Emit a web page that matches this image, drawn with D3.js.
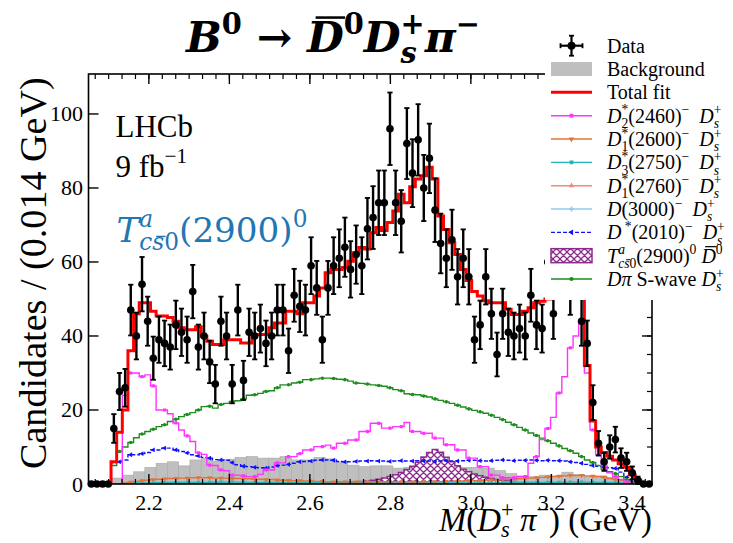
<!DOCTYPE html>
<html>
<head>
<meta charset="utf-8">
<script src="https://cdn.jsdelivr.net/npm/d3@7"></script>
<style>
  body { margin: 0; background: #fff; }
  svg { display: block; }
</style>
</head>
<body>
<svg id="chart" width="733" height="543"></svg>
<script>
// ---- binning of the M(Ds+ pi-) spectrum ----
const massLo = 2.05, massHi = 3.45;
const binWidth = 0.014;      // data, total fit and components
const bkgBinWidth = 0.028;   // background histogram
const yMax = 110.8;

// ---- data: candidates per bin ----
const dataCounts = [0,0,0,0,15,25,26,47,40,54,44,34,39,38,37,43,41,39,52,37,
  40,33,27,44,40,27,47,28,41,40,42,38,40,47,47,36,51,48,47,59,
  53,39,53,59,61,64,58,62,59,69,72,76,76,96,76,71,92,84,93,80,
  88,74,65,61,66,56,61,56,39,43,56,46,35,46,41,40,42,40,51,43,
  42,60,46,58,61,53,59,44,38,22,11,6,10,12,7,6,3,1,0,0];

// ---- total fit ----
const totalFit = [0,0,0,0,6,14,20,36,46,49,49,46.7,45.4,45.4,45,44,42.2,41.7,41.7,42.5,
  39.9,38.6,37.7,37.7,39,39,39,38.1,38.1,40.4,40.4,40.4,42.2,43.5,43.5,46.7,46.7,46,49,49,
  50.8,53,57.1,58,58,58.5,60.2,62.5,63.9,63.5,67.9,69.3,68.5,70.7,73.8,78.3,76,80.3,82.4,83.3,
  85.6,82.4,72.4,68.8,65.2,62,58,55,52,50.8,49.5,49,49,49,47.2,45.8,45.8,46.7,47.6,49,
  49.4,50,51,52,53,56,58,52,32,17,10,8.5,7.5,6.5,5.5,4.5,2.5,1,0,0];

// ---- background (coarser bins) ----
const bkgCounts = [0,0,1.6,2.4,3.3,4.5,5.6,6.0,4.9,6.5,7.0,6.2,6.7,7.2,7.4,7.0,7.0,7.4,6.5,6.5,
  7.2,6.8,6.0,5.1,4.7,4.9,4.9,4.3,4.5,4.3,4.5,4.2,4.4,4.5,4.5,4.3,3.6,2.8,2.2,2.0,
  2.4,2.2,3.2,2.6,2.0,2.2,1.8,1.2,0.6,0];

// ---- fit components ----
const d2_2460 = [0,0,0,0,0,0,24,30,30,29,29.5,26.5,20,20,19,16.5,14.6,13,11.5,8.4,
  8,5.1,5,3.8,3.6,2.4,2.4,2.2,2.0,2.0,2.6,3.8,3.8,5.7,5.7,7.4,7.4,8.2,9.2,9.2,
  10.1,10.1,10.5,9.7,11,11,11.9,11.9,14.2,14.2,16.4,16.4,15.1,15.1,15.5,15.5,16.6,14.2,14.2,13.7,
  13.7,12.4,12.4,10.6,10.6,9.2,9.2,7,7,4.7,4.7,2.4,2.4,1.7,1.7,1.7,2,2,5.6,7.4,
  12,15,18,24.6,29,36.8,40,44,30,14.6,7.9,5.1,3,2,1.2,0.6,0.2,0,0,0];

const d1_2600 = [0,0,0,0,0,0,0.3,0.5,0.7,0.9,1.0,1.2,1.3,1.4,1.5,1.5,1.6,1.6,1.7,1.7,
  1.7,1.7,1.6,1.6,1.6,1.5,1.5,1.4,1.4,1.3,1.3,1.2,1.2,1.1,1.0,1.0,0.9,0.9,0.8,0.8,
  0.7,0.7,0.6,0.6,0.6,0.6,0.6,0.6,0.6,0.6,0.6,0.6,0.6,0.6,0.6,0.6,0.6,0.6,0.6,0.65,
  0.65,0.65,0.65,0.7,0.7,0.8,0.8,0.9,0.9,1.0,1.0,1.1,1.1,1.2,1.3,1.3,1.4,1.5,1.6,1.7,
  1.8,1.9,2.0,2.1,2.2,2.3,2.3,2.3,2.2,2.1,2.0,1.8,1.5,1.2,0.9,0.5,0.2,0,0,0];

const d3_2750 = [0,0,0,0,0,0,0.2,0.3,0.3,0.3,0.3,0.3,0.35,0.35,0.4,0.4,0.4,0.45,0.45,0.45,
  0.45,0.45,0.5,0.5,0.5,0.5,0.5,0.5,0.45,0.45,0.45,0.45,0.45,0.4,0.4,0.4,0.4,0.4,0.4,0.4,
  0.4,0.4,0.4,0.4,0.4,0.4,0.4,0.35,0.35,0.35,0.35,0.35,0.35,0.35,0.35,0.3,0.3,0.3,0.3,0.3,
  0.3,0.3,0.3,0.3,0.3,0.3,0.3,0.3,0.3,0.3,0.3,0.3,0.3,0.35,0.35,0.35,0.35,0.4,0.4,0.4,
  0.4,0.45,0.45,0.45,0.5,0.5,0.5,0.5,0.5,0.45,0.45,0.45,0.4,0.35,0.3,0.25,0.15,0.05,0,0];

const d1_2760 = [0,0,0,0,0,0,0.2,0.25,0.3,0.3,0.35,0.35,0.4,0.4,0.4,0.4,0.4,0.4,0.4,0.4,
  0.35,0.35,0.35,0.35,0.3,0.3,0.3,0.3,0.3,0.3,0.3,0.3,0.3,0.3,0.3,0.3,0.3,0.3,0.3,0.3,
  0.3,0.3,0.3,0.3,0.3,0.3,0.3,0.3,0.3,0.3,0.3,0.3,0.3,0.3,0.3,0.3,0.3,0.3,0.3,0.3,
  0.3,0.3,0.3,0.3,0.3,0.3,0.3,0.3,0.3,0.3,0.3,0.3,0.3,0.3,0.3,0.3,0.3,0.3,0.3,0.3,
  0.3,0.3,0.3,0.3,0.3,0.3,0.3,0.3,0.3,0.3,0.3,0.25,0.25,0.2,0.2,0.15,0.1,0.05,0,0];

const d_3000 = [0,0,0,0,0,0,0.3,0.35,0.4,0.4,0.4,0.45,0.45,0.45,0.45,0.45,0.45,0.45,0.45,0.45,
  0.45,0.45,0.45,0.45,0.45,0.45,0.45,0.45,0.45,0.45,0.45,0.45,0.45,0.45,0.45,0.45,0.45,0.45,0.45,0.45,
  0.45,0.45,0.45,0.45,0.45,0.45,0.45,0.45,0.45,0.45,0.45,0.45,0.45,0.45,0.45,0.45,0.45,0.45,0.45,0.45,
  0.45,0.45,0.45,0.45,0.45,0.45,0.45,0.45,0.45,0.45,0.5,0.5,0.5,0.5,0.5,0.5,0.55,0.55,0.55,0.55,
  0.6,0.6,0.6,0.6,0.65,0.65,0.65,0.65,0.7,0.7,0.7,0.7,0.7,0.6,0.5,0.4,0.25,0.1,0,0];

const dstar_2010 = [0,0,0,0,5.7,6,6.5,7.9,7.9,8.2,8.5,9.2,9.2,9.7,9.7,9.2,8.8,8.4,7.9,7.6,
  7.2,7,6.6,6.5,6.4,5.8,5.2,4.8,4.7,4.5,4.4,4.3,4.6,5,5.1,5.3,5.6,6,6.1,6.2,
  6.4,6.5,6.5,6.4,6.1,6.0,6.0,6.1,6.2,6.2,6.3,6.2,6.2,6.1,6.2,6.3,6.2,6.2,6.3,6.2,
  6.2,6.1,6.2,6.3,6.2,6.2,6.3,6.4,6.4,6.3,6.2,6.3,6.4,6.5,6.4,6.3,6.4,6.4,6.5,6.4,
  6.3,6.4,6.3,6.3,6.2,6.0,5.8,5.6,5.3,5.0,4.8,4.6,4.4,4.2,3.2,1.8,0.8,0.2,0,0];

const tcs0_2900 = [0,0,0,0,0,0,0,0,0,0,0,0,0,0,0,0,0,0,0,0,
  0,0,0,0,0,0,0,0,0,0,0.1,0.15,0.15,0.15,0.2,0.2,0.2,0.2,0.25,0.25,
  0.25,0.3,0.3,0.35,0.4,0.45,0.5,0.6,0.7,0.8,1.0,1.3,1.6,2.0,2.5,3.1,3.9,4.8,5.9,7.3,
  8.5,9.3,8.6,7.2,6.0,4.9,4.0,3.3,2.7,2.2,1.8,1.5,1.2,1.0,0.8,0.65,0.55,0.45,0.4,0.35,
  0.3,0.3,0.25,0.25,0.25,0.2,0.2,0.2,0.2,0.2,0.15,0.15,0.15,0.15,0.15,0.15,0.1,0.05,0,0];

const dpiSwave = [0,0,0,0,5,8.8,10,11.2,12.5,13.5,14.2,14.8,15.5,16,16.9,17.5,18.2,18.8,19.3,20,
  20.9,21,20.5,21.5,21.8,22.3,22.5,23,24,24.1,24.5,25,25.2,26,26.8,26.8,27.3,27.5,28.2,28.2,
  28.4,28.6,28.6,28.5,28.3,28.2,27.8,27.3,27.2,27,26.8,26.6,26.4,26,25.5,25.2,24.4,24.2,24.1,23.8,
  23.5,23,22.6,22.2,21.8,21.3,20.8,20.3,19.9,19.5,19.1,18.6,18,17.4,16.7,16,15.3,14.6,13.8,13.1,
  12.4,11.7,11,10.3,9.6,9,8.3,7.4,6.5,5.8,5,4,3.3,2.8,2,1.2,0.5,0.1,0,0];

// ---- axis ticks ----
const xTickValues = [2.2, 2.4, 2.6, 2.8, 3.0, 3.2, 3.4];
const xTickLabels = ["2.2", "2.4", "2.6", "2.8", "3.0", "3.2", "3.4"];
const yTickValues = [0, 20, 40, 60, 80, 100];
const yTickLabels = ["0", "20", "40", "60", "80", "100"];

// ---- drawing ----
const svg = d3.select("#chart");
const W = 733, H = 543;
const serif = "'Liberation Serif', 'Times New Roman', serif";
svg.append("rect").attr("width", W).attr("height", H).attr("fill", "#fff");

const x = d3.scaleLinear().domain([massLo, massHi]).range([88.5, 652]);
const y = d3.scaleLinear().domain([0, yMax]).range([484, 74]);

const defs = svg.append("defs");
defs.append("clipPath").attr("id", "plotClip").append("rect")
  .attr("x", x(massLo)).attr("y", y(yMax))
  .attr("width", x(massHi) - x(massLo)).attr("height", y(0) - y(yMax));
const hatch = defs.append("pattern").attr("id", "xhatch")
  .attr("patternUnits", "userSpaceOnUse").attr("width", 7).attr("height", 7);
hatch.append("rect").attr("width", 7).attr("height", 7).attr("fill", "#fff");
hatch.append("path").attr("d", "M0,0L7,7M7,0L0,7M-1,6L1,8M6,-1L8,1")
  .attr("stroke", "#8e2c8e").attr("stroke-width", 1.3);

const plot = svg.append("g").attr("clip-path", "url(#plotClip)");

// step outline of a histogram through the scales
function stepLine(values, width) {
  const pts = [[massLo, 0]];
  values.forEach((v, i) => pts.push([massLo + i * width, v]));
  pts.push([massLo + values.length * width, values[values.length - 1]]);
  pts.push([massLo + values.length * width, 0]);
  return d3.line().x(d => x(d[0])).y(d => y(d[1])).curve(d3.curveStepAfter)(pts);
}

// background bars
plot.append("g").selectAll("rect").data(bkgCounts).join("rect")
  .attr("x", (d, i) => x(massLo + i * bkgBinWidth))
  .attr("width", x(massLo + bkgBinWidth) - x(massLo))
  .attr("y", d => y(d))
  .attr("height", d => y(0) - y(d))
  .attr("fill", "#bfbfbf").attr("stroke", "#a9a9a9").attr("stroke-width", 0.6);

// hatched T_cs0 component
plot.append("path").attr("d", stepLine(tcs0_2900, binWidth))
  .attr("fill", "url(#xhatch)").attr("stroke", "#8e2c8e").attr("stroke-width", 1.5);

const components = [
  { vals: d1_2760, color: "#f58a7c", sym: d3.symbolTriangle, rot: 0 },
  { vals: d_3000, color: "#8fcbf2", sym: d3.symbolCross, rot: 0 },
  { vals: d3_2750, color: "#22b5b5", sym: d3.symbolSquare, rot: 0 },
  { vals: d1_2600, color: "#e0743a", sym: d3.symbolTriangle, rot: 180 },
  { vals: dstar_2010, color: "#1010ff", sym: d3.symbolTriangle, rot: -90, dash: "4,2" },
  { vals: dpiSwave, color: "#1e8c1e", sym: d3.symbolCircle, rot: 0 },
  { vals: d2_2460, color: "#ff33ff", sym: d3.symbolSquare, rot: 0 }
];
components.forEach(c => {
  plot.append("path").attr("d", stepLine(c.vals, binWidth))
    .attr("fill", "none").attr("stroke", c.color).attr("stroke-width", 1.4)
    .attr("stroke-dasharray", c.dash || null);
  plot.append("g").selectAll("path").data(c.vals.map((v, i) => [i, v]).filter(d => d[0] % 2 === 1 && d[1] > 0.05))
    .join("path")
    .attr("d", d3.symbol().type(c.sym).size(10))
    .attr("transform", d => `translate(${x(massLo + (d[0] + 0.5) * binWidth)},${y(d[1])}) rotate(${c.rot})`)
    .attr("fill", c.color);
});

// total fit
plot.append("path").attr("d", stepLine(totalFit, binWidth))
  .attr("fill", "none").attr("stroke", "#ff0000").attr("stroke-width", 3);

// data with Poisson errors
const dataG = svg.append("g");
dataCounts.forEach((n, i) => {
  const cx = x(massLo + (i + 0.5) * binWidth);
  if (n > 0) {
    const e = Math.sqrt(n);
    const y1 = y(n + e), y2 = y(n - e);
    dataG.append("line").attr("x1", cx).attr("x2", cx).attr("y1", y1).attr("y2", y2)
      .attr("stroke", "#000").attr("stroke-width", 2.4);
    [y1, y2].forEach(yy => dataG.append("line").attr("x1", cx - 2.6).attr("x2", cx + 2.6)
      .attr("y1", yy).attr("y2", yy).attr("stroke", "#000").attr("stroke-width", 1.8));
  }
  dataG.append("circle").attr("cx", cx).attr("cy", y(n)).attr("r", 3.8).attr("fill", "#000");
});

// frame and ticks
const axes = svg.append("g").attr("stroke", "#000");
axes.append("rect").attr("x", x(massLo)).attr("y", y(yMax))
  .attr("width", x(massHi) - x(massLo)).attr("height", y(0) - y(yMax))
  .attr("fill", "none").attr("stroke-width", 1.6);
const xMinor = d3.range(2.0667, 3.45, 0.2 / 6).filter(v => v > massLo && v < massHi);
xMinor.forEach(v => {
  axes.append("line").attr("x1", x(v)).attr("x2", x(v)).attr("y1", y(0)).attr("y2", y(0) - 5).attr("stroke-width", 1.2);
  axes.append("line").attr("x1", x(v)).attr("x2", x(v)).attr("y1", y(yMax)).attr("y2", y(yMax) + 5).attr("stroke-width", 1.2);
});
xTickValues.forEach(v => {
  axes.append("line").attr("x1", x(v)).attr("x2", x(v)).attr("y1", y(0)).attr("y2", y(0) - 10).attr("stroke-width", 1.4);
  axes.append("line").attr("x1", x(v)).attr("x2", x(v)).attr("y1", y(yMax)).attr("y2", y(yMax) + 10).attr("stroke-width", 1.4);
});
d3.range(5, yMax, 5).forEach(v => {
  axes.append("line").attr("x1", x(massHi)).attr("x2", x(massHi) - 5).attr("y1", y(v)).attr("y2", y(v)).attr("stroke-width", 1.2);
});
yTickValues.forEach(v => {
  axes.append("line").attr("x1", x(massLo)).attr("x2", x(massLo) + 10).attr("y1", y(v)).attr("y2", y(v)).attr("stroke-width", 1.4);
  axes.append("line").attr("x1", x(massHi)).attr("x2", x(massHi) - 10).attr("y1", y(v)).attr("y2", y(v)).attr("stroke-width", 1.4);
});

const labels = svg.append("g").style("font-family", serif).attr("fill", "#000");
xTickValues.forEach((v, i) => labels.append("text").attr("x", x(v)).attr("y", 510)
  .attr("text-anchor", "middle").style("font-size", "22px").text(xTickLabels[i]));
yTickValues.forEach((v, i) => labels.append("text").attr("x", 83).attr("y", y(v) + 7.5)
  .attr("text-anchor", "end").style("font-size", "22px").text(yTickLabels[i]));

// rich text with italics, stacked sub/superscripts and overbars
function richText(parent, px, py, parts, opt) {
  const g = parent.append("g").attr("transform", `translate(${px},${py})`);
  const fam = opt.family || serif, wt = opt.weight || "normal", col = opt.fill || "#000";
  const subDrop = opt.subDrop || 0.26;
  function piece(str, ax, ay, size, italic) {
    const t = g.append("text").attr("x", ax).attr("y", ay)
      .style("font-family", fam).style("font-size", size + "px")
      .style("font-weight", wt).style("font-style", italic ? "italic" : "normal")
      .style("white-space", "pre").attr("fill", col).text(str);
    return t.node().getComputedTextLength();
  }
  function bar(ax, w, ay, size, italic, low) {
    const sh = italic ? size * 0.1 : 0;
    const by = ay - size * (low ? 0.6 : 0.8);
    g.append("line").attr("x1", ax + w * 0.12 + sh).attr("x2", ax + w * 0.92 + sh)
      .attr("y1", by).attr("y2", by)
      .attr("stroke", col).attr("stroke-width", Math.max(1, size * 0.06));
  }
  function run(list, x0, ay, size) {
    let cx = x0;
    for (const p of list) {
      if (p.t !== undefined) {
        const w = piece(p.t, cx, ay, size, p.i);
        if (p.bar) bar(cx, w, ay, size, p.i, p.bar === "low");
        cx += w;
      } else {
        const s2 = size * 0.68;
        let w1 = 0, w2 = 0;
        if (p.sup) w1 = run(p.sup, cx + (p.supShift || 0), ay - size * 0.42, s2) - cx;
        if (p.sub) w2 = run(p.sub, cx, ay + size * subDrop, s2) - cx;
        cx += Math.max(w1, w2);
      }
    }
    return cx;
  }
  const width = run(parts, 0, 0, opt.size);
  return { g, width };
}
// draw text scaled so that it spans a given width
function fittedText(parent, px, py, parts, opt, targetWidth, anchorEnd) {
  const probe = richText(parent, 0, 0, parts, opt);
  const size = opt.size * targetWidth / probe.width;
  probe.g.remove();
  const o = Object.assign({}, opt, { size });
  return richText(parent, anchorEnd ? px - targetWidth : px, py, parts, o);
}

const Dsp = { sup: [{ t: "+" }], sub: [{ t: "s", i: 1 }] };

// title
fittedText(svg, 186, 51.5, [
  { t: "B", i: 1 }, { sup: [{ t: "0" }] }, { t: " \u2192 " },
  { t: "D", i: 1, bar: 1 }, { sup: [{ t: "0" }] },
  { t: "D", i: 1 }, { sup: [{ t: "+" }], sub: [{ t: "s", i: 1 }] },
  { t: "\u03c0", i: 1 }, { sup: [{ t: "\u2212" }] }
], { family: "'DejaVu Serif', serif", weight: "bold", size: 42 }, 294);

// experiment labels
richText(svg, 115.5, 136.5, [{ t: "LHCb" }], { size: 31 });
richText(svg, 115.5, 176.5, [{ t: "9 fb" }, { sup: [{ t: "\u22121" }] }], { size: 31 });
fittedText(svg, 116.5, 241.5, [
  { t: "T", i: 1 }, { sup: [{ t: "a", i: 1 }], sub: [{ t: "c", i: 1 }, { t: "s", i: 1, bar: "low" }, { t: "0" }] },
  { t: "(2900)" }, { sup: [{ t: "0" }] }
], { family: "'DejaVu Serif', serif", size: 30, fill: "#1f77b4" }, 191);

// axis titles
fittedText(svg, 652, 531, [
  { t: "M", i: 1 }, { t: "(" }, { t: "D", i: 1 }, Dsp, { t: "\u2009" }, { t: "\u03c0", i: 1 }, { sup: [{ t: "\u2212" }] },
  { t: ")" }, { t: " (GeV)" }
], { size: 32, subDrop: 0.17 }, 213, true);
const yl = fittedText(svg, 0, 0, [{ t: "Candidates / (0.014 GeV)" }], { size: 36 }, 392);
yl.g.attr("transform", `translate(46,${273 + 196}) rotate(-90)`);

// legend
const lg = svg.append("g");
lg.append("rect").attr("x", 545).attr("y", 30).attr("width", 188).attr("height", 270).attr("fill", "#fff");
const rowY = i => 45.7 + 23.33 * i;
const lx0 = 551, lx1 = 592, lmx = 571.5, ltx = 607;
// Data
lg.append("line").attr("x1", lmx).attr("x2", lmx).attr("y1", rowY(0) - 10).attr("y2", rowY(0) + 10).attr("stroke", "#000").attr("stroke-width", 2.2);
lg.append("line").attr("x1", lmx - 11).attr("x2", lmx + 11).attr("y1", rowY(0)).attr("y2", rowY(0)).attr("stroke", "#000").attr("stroke-width", 2.2);
[[lmx - 2.5, lmx + 2.5, rowY(0) - 10, rowY(0) - 10], [lmx - 2.5, lmx + 2.5, rowY(0) + 10, rowY(0) + 10],
 [lmx - 11, lmx - 11, rowY(0) - 2.5, rowY(0) + 2.5], [lmx + 11, lmx + 11, rowY(0) - 2.5, rowY(0) + 2.5]]
  .forEach(s => lg.append("line").attr("x1", s[0]).attr("x2", s[1]).attr("y1", s[2]).attr("y2", s[3]).attr("stroke", "#000").attr("stroke-width", 1.8));
lg.append("circle").attr("cx", lmx).attr("cy", rowY(0)).attr("r", 4).attr("fill", "#000");
// Background
lg.append("rect").attr("x", lx0).attr("y", rowY(1) - 7).attr("width", lx1 - lx0).attr("height", 14).attr("fill", "#bfbfbf");
// Total fit
lg.append("line").attr("x1", lx0).attr("x2", lx1).attr("y1", rowY(2)).attr("y2", rowY(2)).attr("stroke", "#ff0000").attr("stroke-width", 3);
// components
const legendLines = [
  { row: 3, color: "#ff33ff", sym: d3.symbolSquare, rot: 0 },
  { row: 4, color: "#e0743a", sym: d3.symbolTriangle, rot: 180 },
  { row: 5, color: "#22b5b5", sym: d3.symbolSquare, rot: 0 },
  { row: 6, color: "#f58a7c", sym: d3.symbolTriangle, rot: 0 },
  { row: 7, color: "#8fcbf2", sym: d3.symbolCross, rot: 0 },
  { row: 8, color: "#1010ff", sym: d3.symbolTriangle, rot: -90, dash: "4,2" },
  { row: 10, color: "#1e8c1e", sym: d3.symbolCircle, rot: 0 }
];
legendLines.forEach(l => {
  lg.append("line").attr("x1", lx0).attr("x2", lx1).attr("y1", rowY(l.row)).attr("y2", rowY(l.row))
    .attr("stroke", l.color).attr("stroke-width", 1.4).attr("stroke-dasharray", l.dash || null);
  lg.append("path").attr("d", d3.symbol().type(l.sym).size(14)())
    .attr("transform", `translate(${lmx},${rowY(l.row)}) rotate(${l.rot})`).attr("fill", l.color);
});
lg.append("rect").attr("x", lx0).attr("y", rowY(9) - 7).attr("width", lx1 - lx0).attr("height", 14)
  .attr("fill", "url(#xhatch)").attr("stroke", "#8e2c8e").attr("stroke-width", 1.5);

const legendTexts = [
  [{ t: "Data" }],
  [{ t: "Background" }],
  [{ t: "Total fit" }],
  [{ t: "D", i: 1 }, { sup: [{ t: "*" }], sub: [{ t: "2" }] }, { t: "(2460)" }, { sup: [{ t: "\u2212" }] }, { t: "\u00a0\u00a0" }, { t: "D", i: 1 }, Dsp],
  [{ t: "D", i: 1 }, { sup: [{ t: "*" }], sub: [{ t: "1" }] }, { t: "(2600)" }, { sup: [{ t: "\u2212" }] }, { t: "\u00a0\u00a0" }, { t: "D", i: 1 }, Dsp],
  [{ t: "D", i: 1 }, { sup: [{ t: "*" }], sub: [{ t: "3" }] }, { t: "(2750)" }, { sup: [{ t: "\u2212" }] }, { t: "\u00a0\u00a0" }, { t: "D", i: 1 }, Dsp],
  [{ t: "D", i: 1 }, { sup: [{ t: "*" }], sub: [{ t: "1" }] }, { t: "(2760)" }, { sup: [{ t: "\u2212" }] }, { t: "\u00a0\u00a0" }, { t: "D", i: 1 }, Dsp],
  [{ t: "D", i: 1 }, { t: "(3000)" }, { sup: [{ t: "\u2212" }] }, { t: "\u00a0\u00a0" }, { t: "D", i: 1 }, Dsp],
  [{ t: "D", i: 1 }, { sup: [{ t: "\u00a0*" }] }, { t: "(2010)" }, { sup: [{ t: "\u2212" }] }, { t: "\u00a0\u00a0" }, { t: "D", i: 1 }, Dsp],
  [{ t: "T", i: 1 }, { sup: [{ t: "a", i: 1 }], sub: [{ t: "c", i: 1 }, { t: "s", i: 1, bar: "low" }, { t: "0" }] }, { t: "(2900)" }, { sup: [{ t: "0" }] }, { t: "\u00a0" }, { t: "D", i: 1, bar: 1 }, { sup: [{ t: "0" }] }],
  [{ t: "D", i: 1 }, { t: "\u03c0", i: 1 }, { t: "\u00a0S-wave\u00a0" }, { t: "D", i: 1 }, Dsp]
];
legendTexts.forEach((parts, i) => richText(lg, ltx, rowY(i) + 7, parts, { size: 20 }));
</script>
</body>
</html>
